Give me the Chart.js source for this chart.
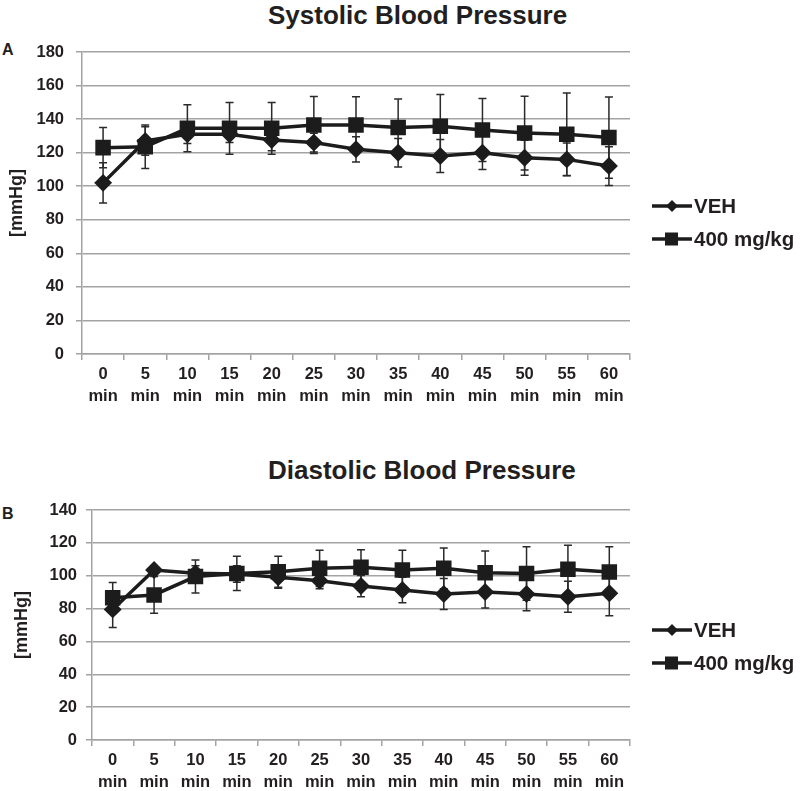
<!DOCTYPE html>
<html>
<head>
<meta charset="utf-8">
<script src="https://cdn.jsdelivr.net/npm/chart.js@4.4.1/dist/chart.umd.min.js"></script>
<style>
  body { margin: 0; background: #fff; font-family: "Liberation Sans", Arial, sans-serif; color: #231f20; }
  #page { position: relative; width: 800px; height: 791px; overflow: hidden; }
  .box { position: absolute; left: 0; width: 800px; }
  .title { position: absolute; left: 268px; font-size: 26px; font-weight: bold; line-height: 30px; white-space: nowrap; }
  .letter { position: absolute; left: 2px; font-size: 16px; font-weight: bold; line-height: 18px; }
  .legend { position: absolute; left: 652px; font-size: 20.5px; font-weight: bold; }
  .legend .row { display: flex; align-items: center; height: 22px; margin-bottom: 11px; }
  .legend svg { margin-right: 2px; }
</style>
</head>
<body>
<div id="page">
  <div class="title" style="top:0px">Systolic Blood Pressure</div>
  <div class="letter" style="top:41px">A</div>
  <div class="box" style="top:0; height:410px"><canvas id="sysChart"></canvas></div>
  <div class="legend" style="top:195px">
    <div class="row"><svg width="40" height="14"><line x1="0" y1="7" x2="40" y2="7" stroke="#1c1c1c" stroke-width="3.5"/><polygon points="20,1 26,7 20,13 14,7" fill="#1c1c1c"/></svg>VEH</div>
    <div class="row"><svg width="40" height="14"><line x1="0" y1="7" x2="40" y2="7" stroke="#1c1c1c" stroke-width="3.5"/><rect x="13" y="0.5" width="13" height="13" fill="#1c1c1c"/></svg>400 mg/kg</div>
  </div>

  <div class="title" style="top:455px">Diastolic Blood Pressure</div>
  <div class="letter" style="top:505px">B</div>
  <div class="box" style="top:420px; height:371px"><canvas id="diaChart"></canvas></div>
  <div class="legend" style="top:619px">
    <div class="row"><svg width="40" height="14"><line x1="0" y1="7" x2="40" y2="7" stroke="#1c1c1c" stroke-width="3.5"/><polygon points="20,1 26,7 20,13 14,7" fill="#1c1c1c"/></svg>VEH</div>
    <div class="row"><svg width="40" height="14"><line x1="0" y1="7" x2="40" y2="7" stroke="#1c1c1c" stroke-width="3.5"/><rect x="13" y="0.5" width="13" height="13" fill="#1c1c1c"/></svg>400 mg/kg</div>
  </div>
</div>

<script>
// time points (min)
const minutes = ["0", "5", "10", "15", "20", "25", "30", "35", "40", "45", "50", "55", "60"];

// systolic, mmHg (mean and SD)
const sysVeh = [102, 127, 131, 131, 127.5, 126, 122, 120, 118, 120, 117, 116, 112];
const sysVehErr = [12, 8.5, 5.5, 5, 6.3, 5.6, 7.5, 8.5, 9.8, 10, 10.4, 9.7, 11.5];
const sys400 = [123, 123.5, 134.5, 134.5, 134.5, 136.5, 136.5, 135, 135.7, 133.5, 131.7, 131, 129];
const sys400Err = [12, 13, 14, 15.4, 15.4, 17, 16.8, 17, 19, 18.8, 22, 24.6, 24.2];

// diastolic, mmHg
const diaVeh = [79.5, 103.5, 101.5, 101, 99, 97, 93.7, 91.3, 88.9, 90.1, 88.9, 87.2, 89.3];
const diaVehErr = [11, 1.5, 4.5, 5, 6.7, 5, 6.5, 7.7, 9.4, 9.8, 10.2, 9.5, 13.6];
const dia400 = [86.6, 88.3, 99.5, 101.4, 102.4, 104.5, 105.1, 103.5, 104.5, 101.8, 101.4, 103.9, 102.2];
const dia400Err = [9.2, 11.2, 10, 10.4, 9.4, 11, 10.7, 12, 12.4, 13.2, 16.3, 14.6, 15.5];

const INK = "#1c1c1c";
const TEXT = "#231f20";
const GRID = "#a3a3a3";
const FONT = "'Liberation Sans', Arial, sans-serif";

// vertical error bars with caps, drawn under the lines
const errorBars = {
  id: "errorBars",
  beforeDatasetsDraw(chart) {
    const ctx = chart.ctx;
    const y = chart.scales.y;
    chart.data.datasets.forEach((ds, i) => {
      const meta = chart.getDatasetMeta(i);
      ctx.save();
      ctx.strokeStyle = "#2a2a2a";
      ctx.lineWidth = 1.5;
      meta.data.forEach((pt, j) => {
        const v = ds.data[j], e = ds.errors[j];
        const top = y.getPixelForValue(v + e);
        const bot = y.getPixelForValue(v - e);
        ctx.beginPath();
        ctx.moveTo(pt.x, top); ctx.lineTo(pt.x, bot);
        ctx.moveTo(pt.x - 4, top); ctx.lineTo(pt.x + 4, top);
        ctx.moveTo(pt.x - 4, bot); ctx.lineTo(pt.x + 4, bot);
        ctx.stroke();
      });
      ctx.restore();
    });
  }
};

function makeChart(id, veh, vehErr, dose, doseErr, opt) {
  return new Chart(document.getElementById(id), {
    type: "line",
    data: {
      labels: minutes.map(m => [m, "min"]),
      datasets: [
        {
          label: "VEH",
          data: veh,
          errors: vehErr,
          borderColor: INK,
          backgroundColor: INK,
          borderWidth: 3.5,
          pointStyle: "rectRot",
          pointRadius: 6.5,
          tension: 0
        },
        {
          label: "400 mg/kg",
          data: dose,
          errors: doseErr,
          borderColor: INK,
          backgroundColor: INK,
          borderWidth: 3.5,
          pointStyle: "rect",
          pointRadius: 8.5,
          tension: 0
        }
      ]
    },
    options: {
      responsive: true,
      maintainAspectRatio: false,
      animation: false,
      layout: { padding: { top: opt.top, right: 170, left: 0, bottom: 0 } },
      plugins: {
        legend: { display: false },
        tooltip: { enabled: false }
      },
      scales: {
        x: {
          offset: true,
          afterFit: s => { s.height = opt.xHeight; },
          grid: { offset: true, drawOnChartArea: false, drawTicks: true, tickLength: 6, color: GRID, lineWidth: 1.5 },
          border: { color: GRID, width: 1.5 },
          ticks: { color: TEXT, padding: 4, maxRotation: 0, autoSkip: false, font: { family: FONT, size: 16.5, weight: "bold", lineHeight: 1.3 } }
        },
        y: {
          min: 0,
          max: opt.max,
          afterFit: s => { s.width = opt.yWidth; },
          grid: { color: GRID, lineWidth: 1.5, tickLength: 6 },
          border: { color: GRID, width: 1.5 },
          ticks: { stepSize: 20, color: TEXT, padding: opt.tickPad, font: { family: FONT, size: 16.5, weight: "bold" } },
          title: { display: true, text: "[mmHg]", color: TEXT, padding: { top: opt.titlePad, bottom: 0 }, font: { family: FONT, size: 18, weight: "bold" } }
        }
      }
    },
    plugins: [errorBars]
  });
}

makeChart("sysChart", sysVeh, sysVehErr, sys400, sys400Err, { top: 52, max: 180, yWidth: 82, xHeight: 56, tickPad: 12, titlePad: 6 });
makeChart("diaChart", diaVeh, diaVehErr, dia400, dia400Err, { top: 90, max: 140, yWidth: 92, xHeight: 51, tickPad: 9, titlePad: 11 });
</script>
</body>
</html>
